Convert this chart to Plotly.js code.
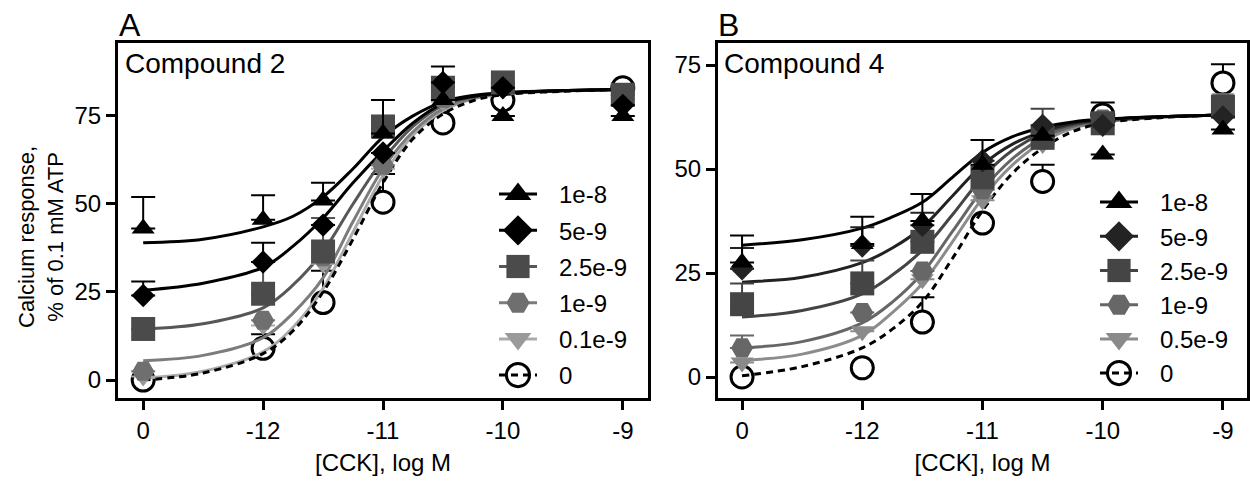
<!DOCTYPE html>
<html><head><meta charset="utf-8">
<script src="https://cdn.plot.ly/plotly-3.0.1.min.js"></script>
<style>html,body{margin:0;padding:0;background:#fff}#chart{width:1250px;height:482px}</style>
</head><body><div id="chart"></div>
<script>
// ---------- data ----------
const tickPositions = [-13, -12, -11, -10, -9];   // "0" (no CCK) drawn at the break position
const tickLabels = ['0', '-12', '-11', '-10', '-9'];
const logCCK = [-13, -12, -11.5, -11, -10.5, -10, -9];
const fitLogCCK = [-13, -12.5, -12, -11.75, -11.5, -11.25, -11, -10.75, -10.5, -10.25, -10, -9.5, -9];

// Panel A: Compound 2
const namesA = ['1e-8', '5e-9', '2.5e-9', '1e-9', '0.1e-9', '0'];
const c2_1e8   = [43, 45.5, 51, 70, 79.5, 75, 75];
const c2_5e9   = [24, 33.5, 44, 64.5, 84.5, 83, 78];
const c2_2p5e9 = [14.5, 24.5, 36.5, 72, 83, 84.5, 81];
const c2_1e9   = [2.5, 17, 35, 61, 80, 84, 81];
const c2_01e9  = [1, 15.5, 33, 60, 79, 83, 80];
const c2_0     = [0, 9, 22, 50.5, 73, 79.5, 83];
const e2_1e8   = [9, 7, 5, 9.5, null, null, null];
const e2_5e9   = [4, 5.5, null, null, 4.5, null, null];
const e2_2p5e9 = [null, 9, 9.5, null, null, null, null];
const e2_1e9   = [null, null, null, null, null, null, null];
const e2_01e9  = [null, null, null, null, null, null, null];
const e2_0     = [null, 4, 9, 8, null, null, null];
const f2_1e8   = [39, 40, 43.5, 46.5, 52, 60, 69, 75, 79, 80.8, 81.6, 82.2, 82.5];
const f2_5e9   = [25.5, 27.5, 32, 38, 46, 56, 65, 73, 78.5, 80.5, 81.5, 82.2, 82.5];
const f2_2p5e9 = [14.5, 16, 20.5, 27, 36.5, 50, 62.5, 72, 78, 80.3, 81.4, 82.2, 82.5];
const f2_1e9   = [5.5, 7, 12, 19, 29, 45, 60, 70.5, 77, 80, 81.3, 82.1, 82.5];
const f2_01e9  = [0.5, 2.5, 8, 15, 26, 42, 58, 69.5, 76.5, 79.8, 81.2, 82.1, 82.5];
const f2_0     = [0, 2, 7.5, 14, 25, 40, 56, 68.5, 75.5, 79.3, 81, 82, 82.5];

// Panel B: Compound 4
const namesB = ['1e-8', '5e-9', '2.5e-9', '1e-9', '0.5e-9', '0'];
const c4_1e8   = [27.5, 32, 37.5, 51, 58, 53.5, 59.5];
const c4_5e9   = [26, 31.5, 36.5, 52, 60.5, 60.5, 62.5];
const c4_2p5e9 = [17.5, 22.5, 32.5, 48, 57.5, 61, 65];
const c4_1e9   = [7, 15.5, 25.5, 45, 57, 62, 66];
const c4_05e9  = [3.5, 11, 23.5, 42.5, 56, 62, 67];
const c4_0     = [0, 2.2, 13.2, 37, 47, 63, 70.7];
const e4_1e8   = [6.5, 6.5, 6.5, 6, null, null, null];
const e4_5e9   = [5, 4.5, 3, null, null, null, null];
const e4_2p5e9 = [5, 5.5, null, null, 7, null, null];
const e4_1e9   = [3, null, null, null, null, null, null];
const e4_05e9  = [null, null, null, null, null, null, null];
const e4_0     = [null, null, 6, null, 4, 3, 4.5];
const f4_1e8   = [31.7, 33, 35.8, 38.5, 42, 48, 54, 57.8, 60, 61.3, 62, 62.6, 63];
const f4_5e9   = [22.8, 24, 27.5, 31, 36, 43.5, 51, 56, 59, 61, 61.8, 62.6, 63];
const f4_2p5e9 = [14.4, 16, 20, 24.5, 30.5, 39, 48, 54.5, 58.5, 60.7, 61.7, 62.6, 63];
const f4_1e9   = [7, 8.5, 13, 18, 25, 35, 45, 52.5, 57.5, 60.3, 61.5, 62.5, 63];
const f4_05e9  = [4, 5.5, 10, 15.5, 22.5, 32.5, 43, 51, 56.5, 59.8, 61.3, 62.5, 63];
const f4_0     = [0.3, 2.5, 7, 11.5, 18, 28.5, 40, 49, 55, 59, 61, 62.4, 63];

// ---------- styles ----------
const FONT = 'Liberation Sans, Arial, Helvetica, sans-serif';
const stylesA = [
  {symbol: 'triangle-up', size: 20, fill: '#000000', line: '#000000', dash: 'solid'},
  {symbol: 'diamond', size: 18, fill: '#000000', line: '#000000', dash: 'solid'},
  {symbol: 'square', size: 24, fill: '#4b4b4b', line: '#575757', dash: 'solid'},
  {symbol: 'hexagon2', size: 22, fill: '#6f6f6f', line: '#7c7c7c', dash: 'solid'},
  {symbol: 'triangle-down', size: 20, fill: '#9a9a9a', line: '#ababab', dash: 'solid'},
  {symbol: 'circle', size: 22, fill: '#ffffff', line: '#000000', dash: '7px,5px', open: true}
];
const stylesB = [
  {symbol: 'triangle-up', size: 20, fill: '#000000', line: '#000000', dash: 'solid'},
  {symbol: 'diamond', size: 18, fill: '#232323', line: '#222222', dash: 'solid'},
  {symbol: 'square', size: 24, fill: '#454545', line: '#444444', dash: 'solid'},
  {symbol: 'hexagon2', size: 22, fill: '#676767', line: '#666666', dash: 'solid'},
  {symbol: 'triangle-down', size: 20, fill: '#8a8a8a', line: '#8c8c8c', dash: 'solid'},
  {symbol: 'circle', size: 22, fill: '#ffffff', line: '#000000', dash: '7px,5px', open: true}
];

function panel(xa, ya, legendId, names, means, errs, fits, styles) {
  const out = [];
  const markers = (i) => {
    const s = styles[i];
    return {
      type: 'scatter', mode: 'markers', x: logCCK, y: means[i], xaxis: xa, yaxis: ya,
      name: names[i], showlegend: false, hoverinfo: 'x+y+name',
      marker: {symbol: s.symbol, size: s.size, color: s.fill,
               line: {color: s.open ? '#000' : s.fill, width: s.open ? 3 : 0}},
      error_y: {type: 'data', symmetric: false, array: errs[i], color: s.open ? '#000' : s.line,
                thickness: 2, width: 12}
    };
  };
  const curve = (i) => {
    const s = styles[i];
    return {
      type: 'scatter', mode: 'lines', x: fitLogCCK, y: fits[i], xaxis: xa, yaxis: ya,
      name: names[i], showlegend: false, hoverinfo: 'skip',
      line: {color: s.line, width: 3, dash: s.dash, shape: 'spline', smoothing: 1}
    };
  };
  out.push(markers(5));
  [4, 3, 2, 5, 1, 0].forEach(i => out.push(curve(i)));
  [4, 3, 2, 1, 0].forEach(i => out.push(markers(i)));
  // legend entries (line + marker, as in the figure)
  names.forEach((n, i) => {
    const s = styles[i];
    out.push({
      type: 'scatter', mode: 'lines+markers', x: [null], y: [null], xaxis: xa, yaxis: ya,
      name: n, legend: legendId, legendgroup: legendId + '_' + i, showlegend: true,
      line: {color: s.line, width: 3, dash: s.dash},
      marker: {symbol: s.open ? 'circle-open' : s.symbol, size: 16, color: s.open ? '#000' : s.fill,
               line: {color: '#000', width: s.open ? 2 : 0}}
    });
  });
  return out;
}

const data = [].concat(
  panel('x', 'y', 'legend', namesA,
        [c2_1e8, c2_5e9, c2_2p5e9, c2_1e9, c2_01e9, c2_0],
        [e2_1e8, e2_5e9, e2_2p5e9, e2_1e9, e2_01e9, e2_0],
        [f2_1e8, f2_5e9, f2_2p5e9, f2_1e9, f2_01e9, f2_0], stylesA),
  panel('x2', 'y2', 'legend2', namesB,
        [c4_1e8, c4_5e9, c4_2p5e9, c4_1e9, c4_05e9, c4_0],
        [e4_1e8, e4_5e9, e4_2p5e9, e4_1e9, e4_05e9, e4_0],
        [f4_1e8, f4_5e9, f4_2p5e9, f4_1e9, f4_05e9, f4_0], stylesB)
);

const axisCommon = {
  showline: true, linewidth: 3, linecolor: '#000', mirror: true,
  ticks: 'outside', ticklen: 9, tickwidth: 3, tickcolor: '#000',
  showgrid: false, zeroline: false, tickfont: {size: 24, color: '#000'}, fixedrange: true
};
const yDomain = [84 / 482, 439 / 482];
const legendCommon = {
  font: {size: 24, color: '#000'}, bgcolor: 'rgba(0,0,0,0)', borderwidth: 0,
  itemwidth: 38, traceorder: 'grouped', xanchor: 'left', yanchor: 'top'
};

const layout = {
  width: 1250, height: 482, margin: {l: 0, r: 0, t: 0, b: 0},
  paper_bgcolor: '#fff', plot_bgcolor: '#fff',
  font: {family: FONT, size: 24, color: '#000'},
  showlegend: true,
  xaxis: Object.assign({}, axisCommon, {domain: [118 / 1250, 648 / 1250], range: [-13.21, -8.79], anchor: 'y',
    tickmode: 'array', tickvals: tickPositions, ticktext: tickLabels,
    title: {text: '[CCK], log M', font: {size: 24}, standoff: 12}}),
  yaxis: Object.assign({}, axisCommon, {domain: yDomain, range: [-5.1, 95.7], anchor: 'x',
    tickmode: 'array', tickvals: [0, 25, 50, 75]}),
  xaxis2: Object.assign({}, axisCommon, {domain: [718 / 1250, 1247 / 1250], range: [-13.2, -8.8], anchor: 'y2',
    tickmode: 'array', tickvals: tickPositions, ticktext: tickLabels,
    title: {text: '[CCK], log M', font: {size: 24}, standoff: 12}}),
  yaxis2: Object.assign({}, axisCommon, {domain: yDomain, range: [-5.05, 80.3], anchor: 'x2',
    tickmode: 'array', tickvals: [0, 25, 50, 75]}),
  legend: Object.assign({}, legendCommon, {x: 494 / 1250, y: 1 - 172 / 482, tracegroupgap: 2}),
  legend2: Object.assign({}, legendCommon, {x: 1095 / 1250, y: 1 - 180 / 482, tracegroupgap: 0}),
  annotations: [
    {text: 'Calcium response,<br>% of 0.1 mM ATP', xref: 'paper', yref: 'paper', x: 41 / 1250, y: 1 - 237 / 482,
     xanchor: 'center', yanchor: 'middle', textangle: -90, showarrow: false, font: {size: 22}},
    {text: 'A', xref: 'paper', yref: 'paper', x: 117 / 1250, y: 1 - 25 / 482, xanchor: 'left', yanchor: 'middle', showarrow: false, font: {size: 32}},
    {text: 'B', xref: 'paper', yref: 'paper', x: 716 / 1250, y: 1 - 25 / 482, xanchor: 'left', yanchor: 'middle', showarrow: false, font: {size: 32}},
    {text: 'Compound 2', xref: 'paper', yref: 'paper', x: 123 / 1250, y: 1 - 64 / 482, xanchor: 'left', yanchor: 'middle', showarrow: false, font: {size: 28}},
    {text: 'Compound 4', xref: 'paper', yref: 'paper', x: 722 / 1250, y: 1 - 64 / 482, xanchor: 'left', yanchor: 'middle', showarrow: false, font: {size: 28}}
  ]
};

// enlarge legend symbols (Plotly caps them at 16px) and open the gap before the text
function tweakLegend(gd) {
  gd.querySelectorAll('g.scrollbox').forEach(e => e.removeAttribute('clip-path'));
  gd.querySelectorAll('g.traces').forEach(tr => {
    tr.querySelectorAll('text.legendtext, text.legend2text').forEach(t => {
      if (t.getAttribute('x') !== '65') t.setAttribute('x', '65');
      t.querySelectorAll('tspan').forEach(ts => { if (ts.hasAttribute('x')) ts.setAttribute('x', '65'); });
    });
    tr.querySelectorAll('path.scatterpts').forEach(p => {
      const cur = p.getAttribute('transform') || '';
      if (cur.indexOf('scale') < 0) p.setAttribute('transform', cur + ' scale(1.45)');
    });
  });
}

const gd = document.getElementById('chart');
Plotly.newPlot(gd, data, layout, {displayModeBar: false, staticPlot: true}).then(() => {
  tweakLegend(gd);
  gd.on('plotly_afterplot', () => tweakLegend(gd));
  let n = 0;
  const iv = setInterval(() => { tweakLegend(gd); if (++n > 40) clearInterval(iv); }, 50);
});
</script>
</body></html>
